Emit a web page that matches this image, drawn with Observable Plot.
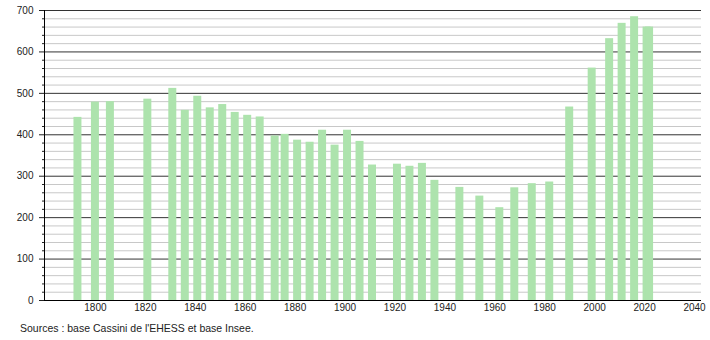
<!DOCTYPE html>
<html>
<head>
<meta charset="utf-8">
<script src="https://cdn.jsdelivr.net/npm/d3@7"></script>
<script src="https://cdn.jsdelivr.net/npm/@observablehq/plot@0.6"></script>
<style>
  html, body { margin: 0; padding: 0; background: #fff; }
  #chart svg { display: block; }
  #caption { font: 10.5px "Liberation Sans", Arial, sans-serif; color: #222; margin: 4px 0 0 20px; line-height: 12px; }
</style>
</head>
<body>
<div id="chart"></div>
<div id="caption">Sources : base Cassini de l'EHESS et base Insee.</div>
<script>
const years = [1793,1800,1806,1821,1831,1836,1841,1846,1851,1856,1861,1866,1872,1876,1881,1886,1891,1896,1901,1906,1911,1921,1926,1931,1936,1946,1954,1962,1968,1975,1982,1990,1999,2006,2011,2016,2021,2022];
const population = [442,479,480,486,512,459,493,465,473,454,447,443,397,401,387,382,411,375,411,384,327,329,324,331,290,273,252,224,272,282,286,467,561,632,669,685,660,660];
const xTicks = [1800,1820,1840,1860,1880,1900,1920,1940,1960,1980,2000,2020,2040];
const yMajor = [0,100,200,300,400,500,600,700];
const yMinor = d3.range(0, 701, 20).filter(v => v % 100 !== 0);

const data = years.map((year, i) => ({year, pop: population[i]}));
const halfBar = 1.6;

const plot = Plot.plot({
  width: 710,
  height: 318,
  marginLeft: 44,
  marginRight: 9,
  marginTop: 10,
  marginBottom: 18,
  style: {fontFamily: '"Liberation Sans", Arial, sans-serif', fontSize: "10px", color: "#222"},
  x: {domain: [1779.6, 2042.8]},
  y: {domain: [0, 700]},
  marks: [
    Plot.ruleY(yMinor, {stroke: "#c8c8c8", strokeWidth: 1}),
    Plot.ruleY(yMajor.filter(v => v > 0), {stroke: "#333", strokeWidth: 1}),
    Plot.rectY(data, {x1: d => d.year - halfBar, x2: d => d.year + halfBar, y: "pop", fill: "#ade3ad"}),
    Plot.ruleY([0], {stroke: "#000", strokeWidth: 1}),
    Plot.axisY({ticks: yMinor, tickSize: 2, tickFormat: null, text: null, label: null}),
    Plot.axisY({ticks: yMajor, tickSize: 5, tickPadding: 6, label: null, tickFormat: d => String(d)}),
    Plot.axisX({ticks: xTicks, tickSize: 0, tickPadding: 3, label: null, tickFormat: d => String(d)}),
    Plot.frame({anchor: "left", stroke: "#000"})
  ]
});
document.getElementById("chart").appendChild(plot);
</script>
</body>
</html>
